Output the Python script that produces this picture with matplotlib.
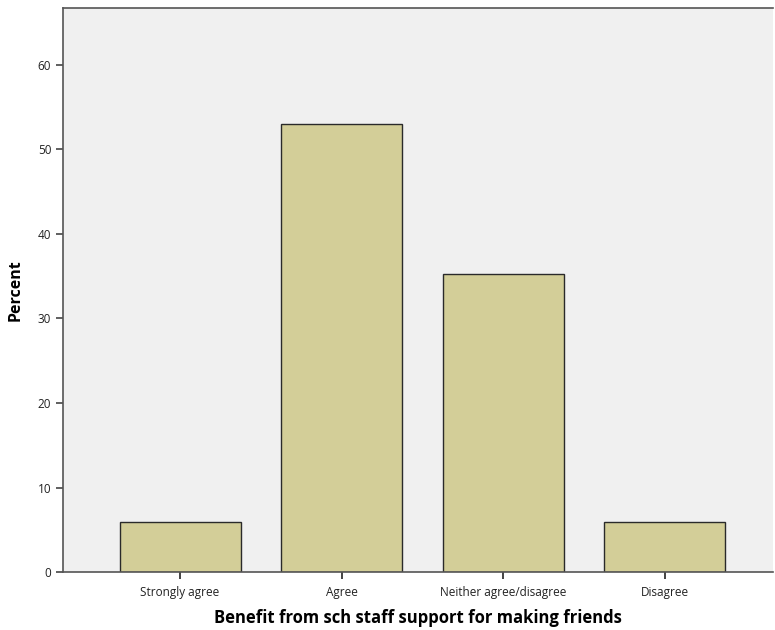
import matplotlib
matplotlib.use("Agg")
import matplotlib.pyplot as plt

categories = ["Strongly agree", "Agree", "Neither agree/disagree", "Disagree"]
percent = [5.9, 53.0, 35.3, 5.9]
yticks = [0, 10, 20, 30, 40, 50, 60]

plt.rcParams['font.family'] = ['Open Sans', 'DejaVu Sans']

fig = plt.figure(figsize=(7.75, 6.3), dpi=100)
ax = fig.add_axes([0.0813, 0.092, 0.916, 0.895])
ax.set_facecolor('#F0F0F0')

x = range(len(categories))
ax.bar(x, percent, width=0.75, color='#D3CE98', edgecolor='#2a2a2a', linewidth=1.0, zorder=2)

ax.set_xlim(-0.725, 3.67)
ax.set_ylim(0, 66.7)
ax.set_yticks(yticks)
ax.set_xticks(list(x))
ax.set_xticklabels(categories, fontsize=8.5, color='#222222')
ax.tick_params(axis='y', labelsize=8.5, length=5, width=1.2, colors='#444444', labelcolor='#222222')
ax.tick_params(axis='x', length=5, width=1.2, colors='#222222', pad=5)

for side in ['left', 'bottom', 'top']:
    ax.spines[side].set_color('#555555')
    ax.spines[side].set_linewidth(1.2)
ax.spines['right'].set_visible(False)

ax.set_ylabel('Percent', fontsize=11.5, fontweight='bold', labelpad=10)
ax.set_xlabel('Benefit from sch staff support for making friends', fontsize=12, fontweight='bold', labelpad=7)

fig.savefig('out.png', dpi=100)
